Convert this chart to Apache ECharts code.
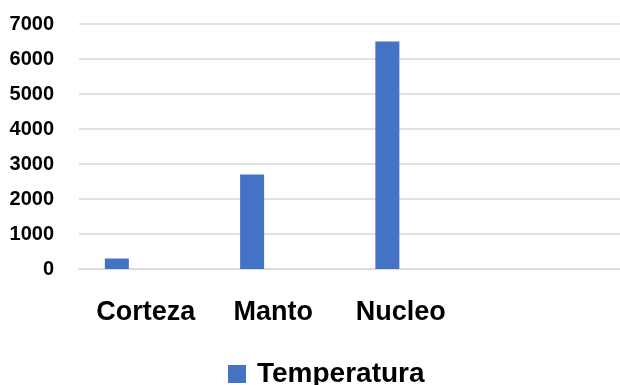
<!DOCTYPE html>
<html>
<head>
<meta charset="utf-8">
<script src="https://cdn.jsdelivr.net/npm/echarts@6/dist/echarts.min.js"></script>
<style>html,body{margin:0;padding:0;background:#fff;}#c{width:620px;height:385px;}</style>
</head>
<body>
<div id="c"></div>
<script>
var categories = ['Corteza', 'Manto', 'Nucleo', ''];
var temperatura = [300, 2700, 6500, 0];
var serie2 = [0, 0, 0, 0];
var serie3 = [0, 0, 0, 0];
var yTicks = [0, 1000, 2000, 3000, 4000, 5000, 6000, 7000];

var FONT = 'Liberation Sans';
var chart = echarts.init(document.getElementById('c'));
chart.setOption({
  animation: false,
  grid: [
    {left: 79, right: 0, top: 24, bottom: 116},
    {left: 82, right: 28, top: 24, bottom: 116}
  ],
  legend: {
    data: ['Temperatura'],
    icon: 'rect',
    left: 228, top: 360, padding: 0,
    itemWidth: 18, itemHeight: 18, itemGap: 6,
    textStyle: {fontFamily: FONT, fontWeight: 'bold', fontSize: 28, color: '#000', padding: [0, 0, 0, 6]}
  },
  xAxis: [
    {type: 'category', gridIndex: 0, data: categories,
     axisLine: {show: true, lineStyle: {color: '#d9d9d9', width: 1.5}},
     axisTick: {show: false}, axisLabel: {show: false}},
    {type: 'category', gridIndex: 1, data: categories,
     axisLine: {show: false}, axisTick: {show: false},
     axisLabel: {interval: 0, margin: 30, fontFamily: FONT, fontWeight: 'bold', fontSize: 27, color: '#000'}}
  ],
  yAxis: [
    {type: 'value', gridIndex: 0, min: yTicks[0], max: yTicks[yTicks.length - 1], interval: 1000,
     axisLine: {show: false}, axisTick: {show: false},
     splitLine: {lineStyle: {color: '#d9d9d9', width: 1.5}},
     axisLabel: {margin: 25, fontFamily: FONT, fontWeight: 'bold', fontSize: 20, color: '#000',
                 formatter: function (v) { return String(v); }}},
    {type: 'value', gridIndex: 1, min: 0, max: 7000, show: false, splitLine: {show: false}}
  ],
  series: [
    {name: 'Temperatura', type: 'bar', xAxisIndex: 0, yAxisIndex: 0, data: temperatura,
     barWidth: 24, barGap: '24%', itemStyle: {color: '#4472C4'}},
    {name: 'Serie2', type: 'bar', xAxisIndex: 0, yAxisIndex: 0, data: serie2,
     barWidth: 24, barGap: '24%', itemStyle: {color: '#ED7D31'}},
    {name: 'Serie3', type: 'bar', xAxisIndex: 0, yAxisIndex: 0, data: serie3,
     barWidth: 24, barGap: '24%', itemStyle: {color: '#A5A5A5'}}
  ]
});
</script>
</body>
</html>
